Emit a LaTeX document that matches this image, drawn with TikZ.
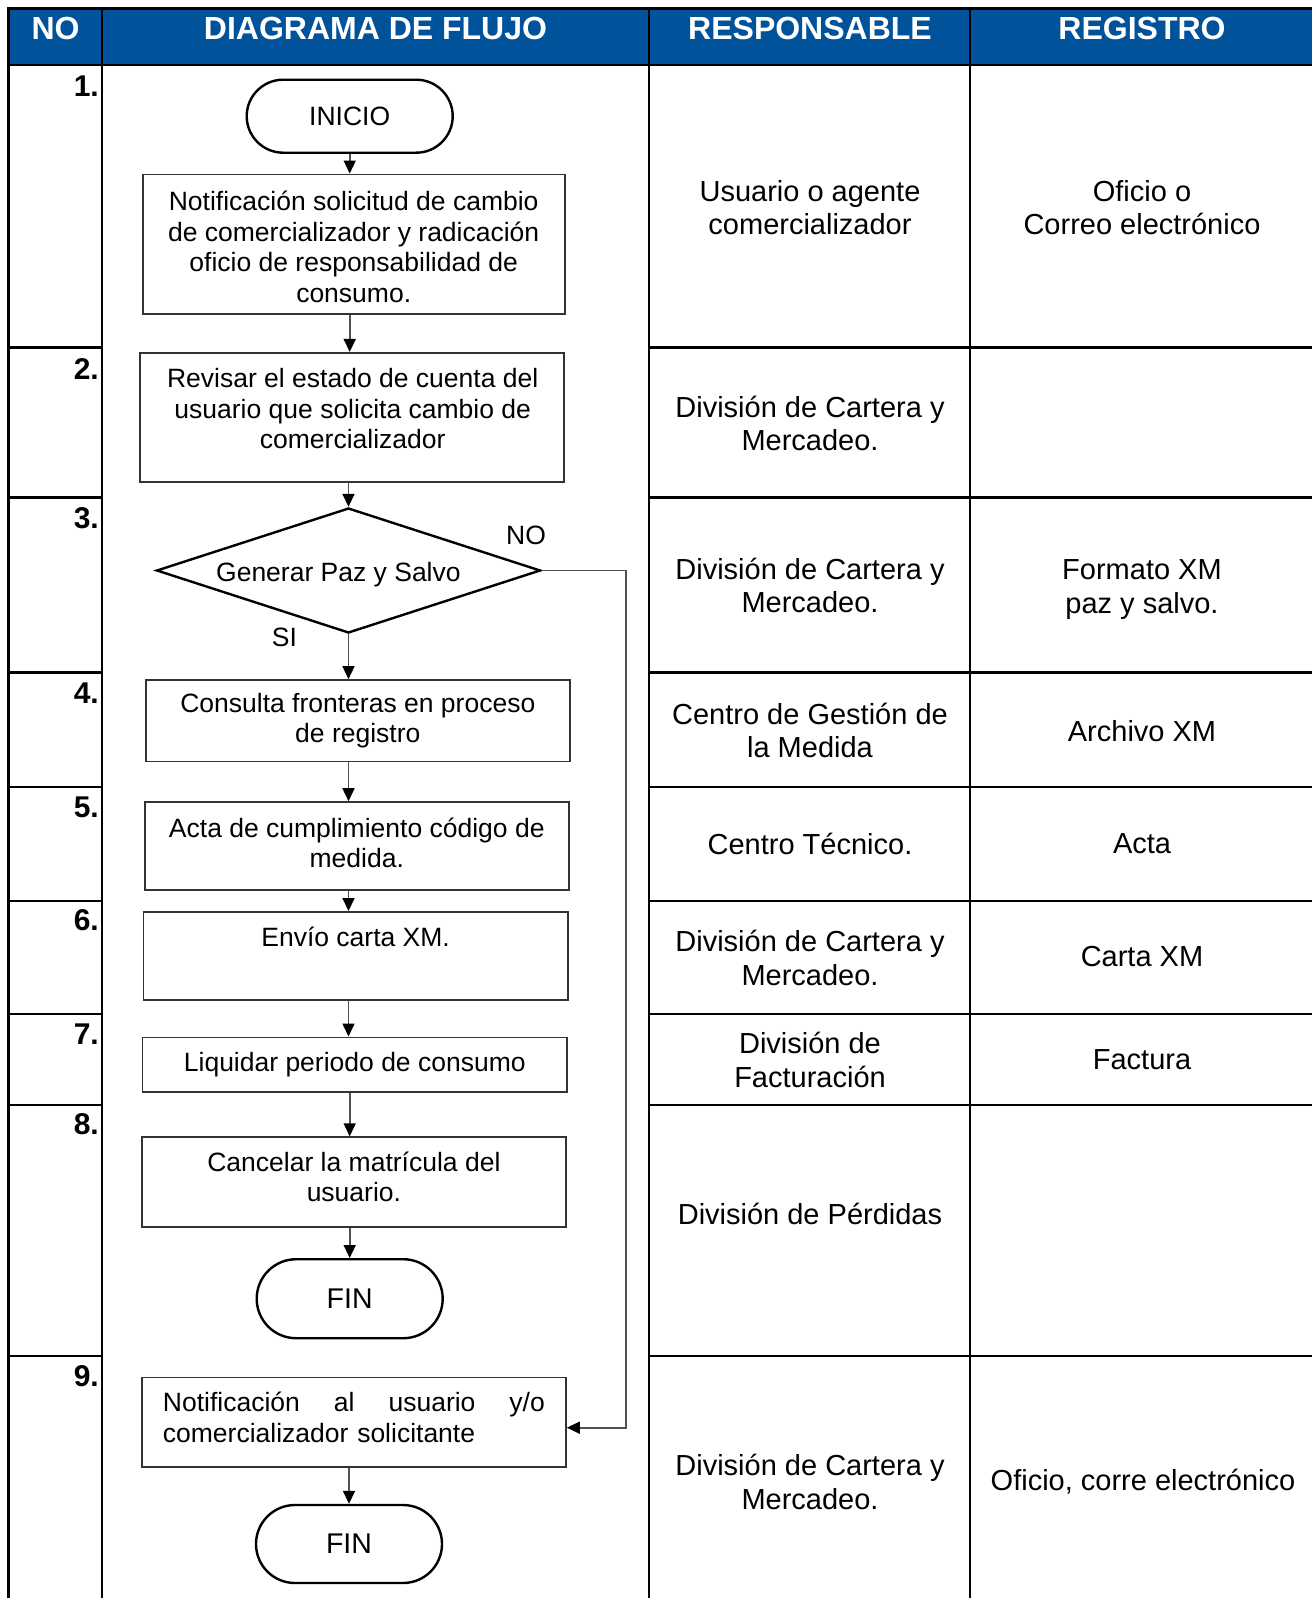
\documentclass[tikz,border=0pt]{standalone}
\usepackage{fontspec}
\setmainfont{Liberation Sans}
\usetikzlibrary{arrows.meta,shapes.geometric,shapes.misc}
\definecolor{hdrblue}{RGB}{0,82,155}
\definecolor{lnGray}{RGB}{80,80,80}
\begin{document}
\begin{tikzpicture}[x=1pt,y=-1pt,
  tbl/.style={line width=2.8pt, draw=black},
  hdr/.style={font=\fontsize{32}{36}\selectfont\bfseries, text=white, inner sep=0pt},
  num/.style={font=\fontsize{30}{34}\selectfont\bfseries, anchor=east, inner sep=0pt},
  cell/.style={font=\fontsize{29}{33.6}\selectfont, align=center, inner sep=0pt},
  ftext/.style={font=\fontsize{26.5}{30.6}\selectfont, align=center, inner sep=0pt},
  box/.style={draw=black!80, line width=1.6pt, rectangle, inner sep=0pt, ftext},
  term/.style={draw=black, line width=2.4pt, rounded rectangle, inner sep=0pt, ftext},
  arr/.style={draw=lnGray, line width=1.6pt, -{Triangle[width=12pt,length=13pt,color=black]}},
]
\useasboundingbox (0,0) rectangle (1312,1598);
\fill[white] (0,0) rectangle (1312,1598);
% header
\fill[hdrblue] (8.5,8.5) rectangle (1312,65);
\draw[tbl] (1312,8.5) -- (8.5,8.5) -- (8.5,1598);
\draw[tbl] (8.5,65) -- (1312,65);
\foreach \xx in {102,649,970} { \draw[tbl] (\xx,8.5) -- (\xx,1598); }
\foreach \yy in {347.6,497.5,672.8,787,901,1014,1105,1356} {
  \draw[tbl] (8.5,\yy) -- (102,\yy);
  \draw[tbl] (649,\yy) -- (1312,\yy);
}
\node[hdr] (hNo) at (55.5,28) {NO};
\node[hdr] (hDia) at (375.5,28) {DIAGRAMA DE FLUJO};
\node[hdr] (hRes) at (810,28) {RESPONSABLE};
\node[hdr] (hReg) at (1142,28) {REGISTRO};
% row numbers
\node[num] (n1) at (99,86) {1.};
\node[num] (n2) at (99,369) {2.};
\node[num] (n3) at (99,518) {3.};
\node[num] (n4) at (99,693) {4.};
\node[num] (n5) at (99,807) {5.};
\node[num] (n6) at (99,920.5) {6.};
\node[num] (n7) at (99,1034) {7.};
\node[num] (n8) at (99,1124) {8.};
\node[num] (n9) at (99,1376) {9.};
% responsable
\node[cell] (r1) at (810,207.5) {Usuario o agente\\comercializador};
\node[cell] (r2) at (810,423.6) {División de Cartera y\\Mercadeo.};
\node[cell] (r3) at (810,585.6) {División de Cartera y\\Mercadeo.};
\node[cell] (r4) at (810,730.4) {Centro de Gestión de\\la Medida};
\node[cell] (r5) at (810,844) {Centro Técnico.};
\node[cell] (r6) at (810,957.7) {División de Cartera y\\Mercadeo.};
\node[cell] (r7) at (810,1059.7) {División de\\Facturación};
\node[cell] (r8) at (810,1214) {División de Pérdidas};
\node[cell] (r9) at (810,1481.7) {División de Cartera y\\Mercadeo.};
% registro
\node[cell] (g1) at (1142,207.5) {Oficio o\\Correo electrónico};
\node[cell] (g3) at (1142,589.6) {Formato XM\\paz y salvo.};
\node[cell] (g4) at (1142,731) {Archivo XM};
\node[cell] (g5) at (1142,844) {Acta};
\node[cell] (g6) at (1142,957) {Carta XM};
\node[cell] (g7) at (1142,1060) {Factura};
\node[cell] (g9) at (1143,1482) {Oficio, corre electrónico};
% flow
\coordinate (axis) at (348.5,0);
\node[term, minimum width=206pt, minimum height=73pt] (ini) at (349.7,116.2) {INICIO};
\node[box, minimum width=422pt, minimum height=139.7pt] (b1) at (353.7,244.2) {};
\node[ftext] (b1t) at (353.7,246.9)
  {Notificación solicitud de cambio\\de comercializador y radicación\\oficio de responsabilidad de\\consumo.};
\node[box, minimum width=424pt, minimum height=129.5pt] (b2) at (351.7,417.5) {};
\node[ftext] (b2t) at (352.7,408.8) {Revisar el estado de cuenta del\\usuario que solicita cambio de\\comercializador};
\node[diamond, draw=black, line width=2.4pt, inner sep=0pt, minimum width=384pt, minimum height=125pt] (dia) at (348.5,570.5) {};
\node[ftext] (dt) at (338.4,575) {Generar Paz y Salvo};
\node[ftext] (lno) at (526,535) {NO};
\node[ftext] (lsi) at (284.4,637) {SI};
\node[box, minimum width=424pt, minimum height=81.5pt] (b4) at (357.8,720.7)
  {Consulta fronteras en proceso\\de registro};
\node[box, minimum width=424pt, minimum height=88pt] (b5) at (356.8,846) {};
\node[ftext] (b5t) at (356.8,843) {Acta de cumplimiento código de\\medida.};
\node[box, minimum width=424.3pt, minimum height=88.3pt] (b6) at (355.6,956) {};
\node[ftext] (b6t) at (355.6,937) {Envío carta XM.};
\node[box, minimum width=424.3pt, minimum height=54.4pt] (b7) at (354.8,1064.5)
  {Liquidar periodo de consumo};
\node[box, minimum width=424.2pt, minimum height=89.7pt] (b8) at (353.9,1182) {};
\node[ftext] (b8t) at (353.9,1177) {Cancelar la matrícula del\\usuario.};
\node[term, minimum width=186pt, minimum height=79pt, font=\fontsize{28.5}{32}\selectfont] (fin1) at (349.7,1298.7) {FIN};
\node[box, minimum width=424.2pt, minimum height=89.4pt] (b9) at (353.9,1422) {};
\node[ftext, text width=382pt, align=left] (b9t) at (353.9,1417.5)
  {Notificación\hfill al\hfill usuario\hfill y/o\\comercializador solicitante};
\node[term, minimum width=186pt, minimum height=78pt, font=\fontsize{28.5}{32}\selectfont] (fin2) at (349,1544) {FIN};
% connectors
\draw[arr] (ini.south) -- (ini.south |- b1.north);
\draw[arr] (ini.south |- b1.south) -- (ini.south |- b2.north);
\draw[arr] (dia.north |- b2.south) -- (dia.north);
\draw[arr] (dia.south) -- (dia.south |- b4.north);
\draw[arr] (axis |- b4.south) -- (axis |- b5.north);
\draw[arr] (axis |- b5.south) -- (axis |- b6.north);
\draw[arr] (axis |- b6.south) -- (axis |- b7.north);
\draw[arr] (fin1.north |- b7.south) -- (fin1.north |- b8.north);
\draw[arr] (fin1.north |- b8.south) -- (fin1.north);
\draw[arr] (fin2.north |- b9.south) -- (fin2.north);
\coordinate (noTurn) at (626,1427.7);
\draw[arr] (dia.east) -| (noTurn) -- (b9.east |- noTurn);
\end{tikzpicture}
\end{document}
